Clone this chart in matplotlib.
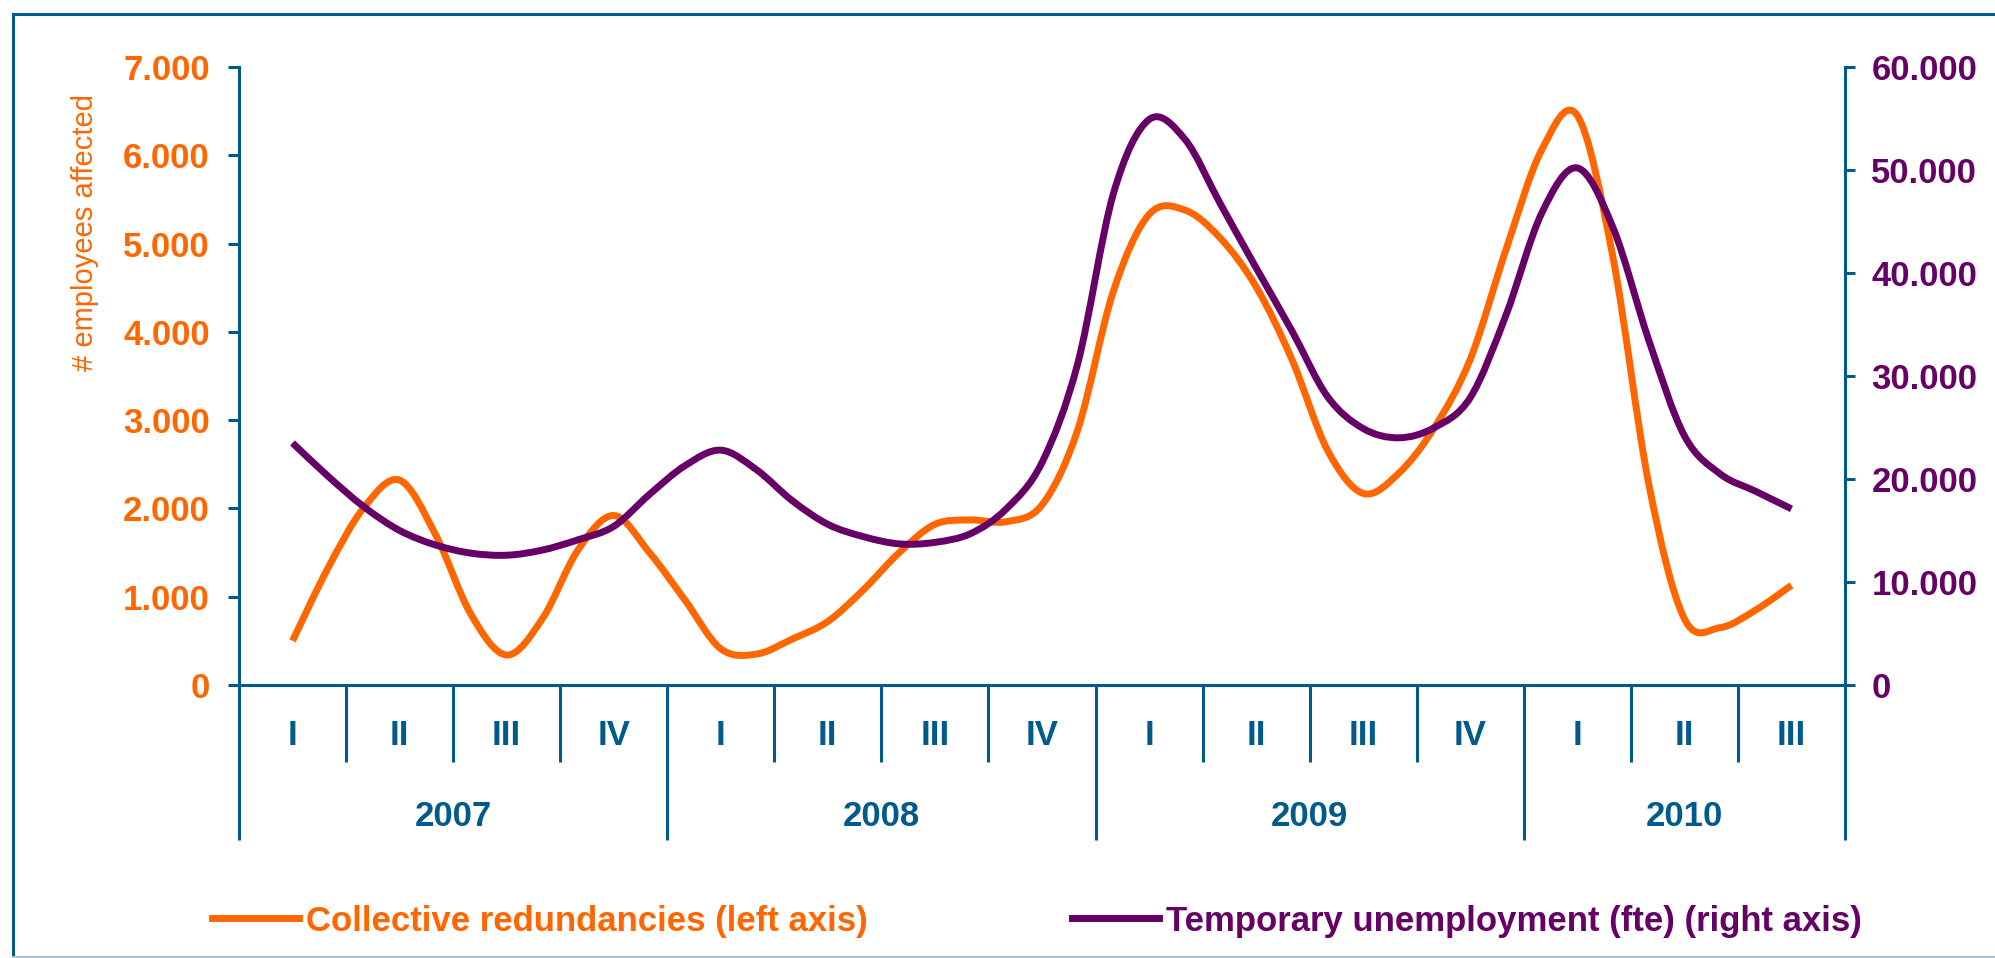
import numpy as np
import matplotlib.pyplot as plt
import matplotlib.transforms as mtransforms
from matplotlib.lines import Line2D
from matplotlib.path import Path
from matplotlib.patches import PathPatch
from matplotlib.ticker import FuncFormatter

plt.rcParams['font.family'] = ['Liberation Sans', 'DejaVu Sans']

# quarter / year categories of the x axis
quarters = ['I', 'II', 'III', 'IV', 'I', 'II', 'III', 'IV',
            'I', 'II', 'III', 'IV', 'I', 'II', 'III']
years = ['2007', '2008', '2009', '2010']
quarters_per_year = [4, 4, 4, 3]

# monthly values (3-month smoothed), Feb 2007 .. Aug 2010
redundancies = [500, 1330, 2010, 2320, 1710, 800, 340, 750, 1530, 1920,
                1500, 960, 410, 350, 520, 720, 1080, 1500, 1820, 1870,
                1850, 2040, 2890, 4460, 5330, 5380, 5060, 4510, 3690, 2660,
                2170, 2400, 2920, 3690, 4930, 6060, 6450, 4840, 2280, 750,
                650, 850, 1130]
temp_unemployment = [23500, 20250, 17300, 15000, 13600, 12800, 12600, 13100,
                     14100, 15400, 18500, 21300, 22800, 20900, 17900, 15600,
                     14400, 13700, 13850, 14700, 17100, 21600, 31200, 47700,
                     54900, 53000, 46700, 40500, 34400, 28000, 24900, 24000,
                     25000, 27900, 35900, 45800, 50200, 44400, 33500, 24200,
                     20500, 18800, 17100]
month_idx = np.arange(1, 1 + len(redundancies))  # months since Jan 2007

BLUE = '#005A8C'
ORANGE = '#FF6600'
PURPLE = '#660066'
LW = 5


def smooth_line(ax, x, y, color):
    # Excel-style "smoothed line": cubic bezier through every data point
    p = np.column_stack([x, y]).astype(float)
    ext = np.vstack([p[0], p, p[-1]])
    verts = [p[0]]
    codes = [Path.MOVETO]
    for i in range(len(p) - 1):
        c1 = ext[i + 1] + (ext[i + 2] - ext[i]) / 6
        c2 = ext[i + 2] - (ext[i + 3] - ext[i + 1]) / 6
        verts += [c1, c2, p[i + 1]]
        codes += [Path.CURVE4] * 3
    patch = PathPatch(Path(verts, codes), fill=False, edgecolor=color, lw=LW,
                      capstyle='butt', joinstyle='round')
    ax.add_patch(patch)


fig = plt.figure(figsize=(19.95, 9.58), dpi=100)
ax = fig.add_axes([239 / 1995, 1 - 685 / 958, 1606 / 1995, 618 / 958])
ax2 = ax.twinx()

smooth_line(ax, month_idx, redundancies, ORANGE)
smooth_line(ax2, month_idx, temp_unemployment, PURPLE)

n_months = 3 * len(quarters)
ax.set_xlim(-0.5, n_months - 0.5)
ax.set_ylim(0, 7000)
ax2.set_ylim(0, 60000)
ax.set_yticks(range(0, 7001, 1000))
ax2.set_yticks(range(0, 60001, 10000))

dot_fmt = FuncFormatter(lambda v, p: f'{v:,.0f}'.replace(',', '.'))
ax.yaxis.set_major_formatter(dot_fmt)
ax2.yaxis.set_major_formatter(dot_fmt)

# year boundaries get long ticks, quarter boundaries short ones
year_bounds = np.cumsum([0] + quarters_per_year) * 3 - 0.5
q_bounds = [3 * k - 0.5 for k in range(1, len(quarters))
            if 3 * k - 0.5 not in year_bounds]
ax.set_xticks(year_bounds)
ax.set_xticks(q_bounds, minor=True)
ax.tick_params(axis='x', which='major', direction='out', length=111.6,
               width=2.2, color=BLUE, labelbottom=False)
ax.tick_params(axis='x', which='minor', direction='out', length=55.4,
               width=2.2, color=BLUE)

ax.tick_params(axis='y', direction='out', length=8, width=2.2, color=BLUE,
               pad=13, labelsize=25, labelcolor=ORANGE)
ax2.tick_params(axis='y', direction='out', length=7, width=2.2, color=BLUE,
                pad=12, labelsize=25, labelcolor=PURPLE)
for lab in ax.get_yticklabels() + ax2.get_yticklabels():
    lab.set_fontweight('bold')

for name in ['top', 'right']:
    ax.spines[name].set_visible(False)
for name in ['top', 'left', 'bottom']:
    ax2.spines[name].set_visible(False)
for sp in [ax.spines['left'], ax.spines['bottom'], ax2.spines['right']]:
    sp.set_color(BLUE)
    sp.set_linewidth(2.2)

trans = mtransforms.blended_transform_factory(ax.transData, ax.transAxes)
for i, q in enumerate(quarters):
    ax.text(3 * i + 1, -0.0825, q, transform=trans, ha='center',
            va='center', fontsize=25, fontweight='bold', color=BLUE)
for i, y in enumerate(years):
    mid = (year_bounds[i] + year_bounds[i + 1]) / 2
    ax.text(mid, -0.212, y, transform=trans, ha='center', va='center',
            fontsize=25, fontweight='bold', color=BLUE)

ax.set_ylabel('# employees affected', color=ORANGE, fontsize=21)
ax.yaxis.set_label_coords(-0.087, 0.733)

handles = [Line2D([], [], color=ORANGE, lw=LW),
           Line2D([], [], color=PURPLE, lw=LW)]
labels = ['Collective redundancies (left axis)',
          'Temporary unemployment (fte) (right axis)']
fig.legend(handles, labels, loc='center left',
           bbox_to_anchor=(212 / 1995, 1 - 921 / 958), ncol=2,
           frameon=False, handlelength=2.5, handletextpad=0.2,
           columnspacing=5.9, borderpad=0, borderaxespad=0,
           prop={'size': 25, 'weight': 'bold'}, labelcolor='linecolor')

# outer frame
fig.add_artist(Line2D([12.5 / 1995, 12.5 / 1995], [1 - 13.5 / 958, 1 - 957 / 958],
                      transform=fig.transFigure, color=BLUE, lw=2.2))
fig.add_artist(Line2D([12.5 / 1995, 1], [1 - 13.5 / 958, 1 - 13.5 / 958],
                      transform=fig.transFigure, color=BLUE, lw=2.2))
fig.add_artist(Line2D([12.5 / 1995, 1], [1 - 956.5 / 958, 1 - 956.5 / 958],
                      transform=fig.transFigure, color='#A9C0D3', lw=1.5))

fig.savefig('out.png', dpi=100)
